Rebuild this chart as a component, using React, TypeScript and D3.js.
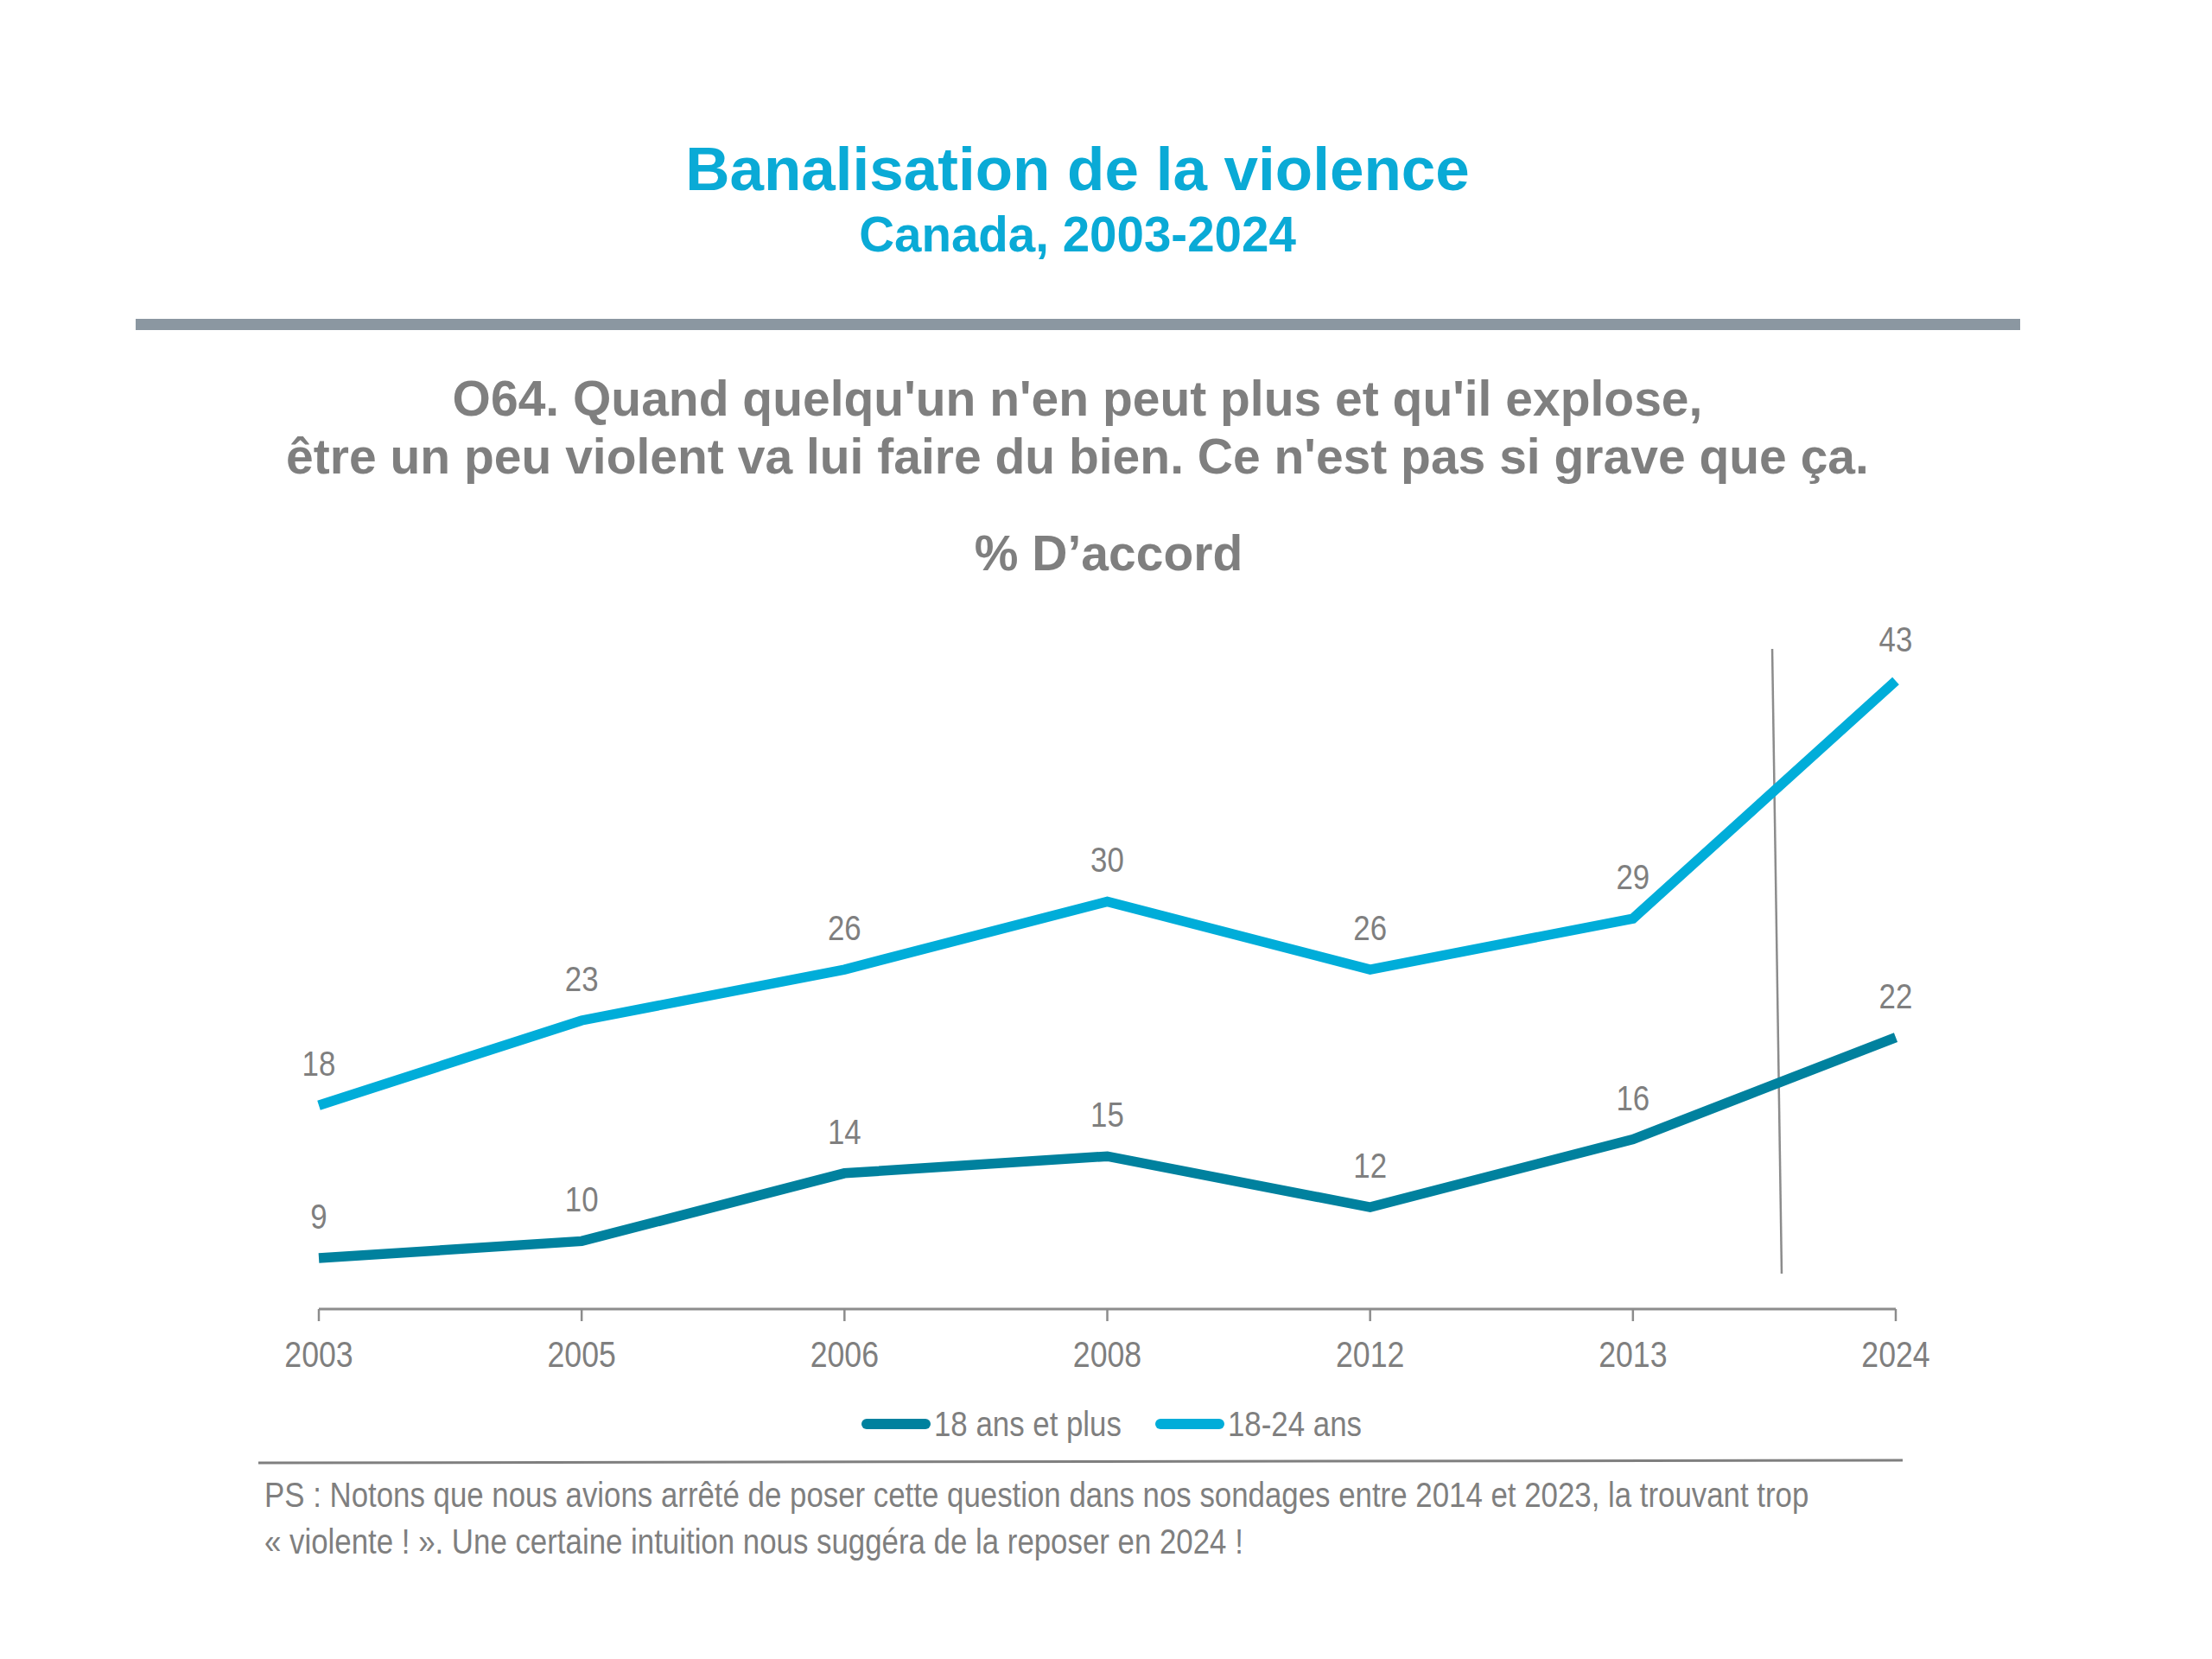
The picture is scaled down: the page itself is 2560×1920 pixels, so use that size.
import React, { useEffect } from "react";
import * as d3 from "d3";

const years = ["2003", "2005", "2006", "2008", "2012", "2013", "2024"];
const adults = [9, 10, 14, 15, 12, 16, 22];
const youth = [18, 23, 26, 30, 26, 29, 43];
const seriesNames = ["18 ans et plus", "18-24 ans"];
const titleText = "Banalisation de la violence";
const subtitleText = "Canada, 2003-2024";
const questionLines = [
  "O64. Quand quelqu'un n'en peut plus et qu'il explose,",
  "être un peu violent va lui faire du bien. Ce n'est pas si grave que ça.",
];
const measureText = "% D\u2019accord";
const footnoteLines = [
  "PS : Notons que nous avions arrêté de poser cette question dans nos sondages entre 2014 et 2023, la trouvant trop",
  "« violente ! ». Une certaine intuition nous suggéra de la reposer en 2024 !",
];

const W = 2560;
const H = 1920;
const BLUE = "#0AAAD6";
const DARK = "#00819E";
const LIGHT = "#00ADD9";
const GRAY = "#7F7F7F";
const SANS = "'Liberation Sans', Arial, Helvetica, sans-serif";
const NARROW_SCALE = 0.85;

function NText(props: {
  x: number;
  y: number;
  size: number;
  anchor?: "start" | "middle" | "end";
  children: React.ReactNode;
}) {
  return (
    <text
      transform={`translate(${props.x},${props.y}) scale(${NARROW_SCALE},1)`}
      textAnchor={props.anchor || "start"}
      fontFamily={SANS}
      fontSize={props.size}
      fill={GRAY}
    >
      {props.children}
    </text>
  );
}

export default function App() {
  useEffect(() => {
    document.body.style.margin = "0";
  }, []);

  const x = d3.scalePoint<string>().domain(years).range([369, 2194]);
  const y = d3.scaleLinear().domain([6, 43]).range([1515, 788]);
  const step = x.step();

  const line = d3
    .line<number>()
    .x((_, i) => x(years[i]) as number)
    .y((d) => y(d));

  const series = [
    { name: seriesNames[0], values: adults, color: DARK },
    { name: seriesNames[1], values: youth, color: LIGHT },
  ];

  const sepX1 = (x("2013") as number) + step * 0.53;
  const sepX2 = (x("2013") as number) + step * 0.566;

  return (
    <svg width={W} height={H} style={{ display: "block", background: "#fff" }}>
      <rect x={0} y={0} width={W} height={H} fill="#fff" />
      <text x={1247} y={220} textAnchor="middle" fontFamily={SANS} fontWeight="bold" fontSize={71} fill={BLUE}>
        {titleText}
      </text>
      <text x={1247} y={291} textAnchor="middle" fontFamily={SANS} fontWeight="bold" fontSize={56.5} fill={BLUE}>
        {subtitleText}
      </text>
      <rect x={157} y={369} width={2181} height={13} fill="#8B97A1" />
      {questionLines.map((t, i) => (
        <text key={i} x={1247} y={481 + i * 67} textAnchor="middle" fontFamily={SANS} fontWeight="bold" fontSize={57} fill={GRAY}>
          {t}
        </text>
      ))}
      <text x={1283} y={660} textAnchor="middle" fontFamily={SANS} fontWeight="bold" fontSize={57} fill={GRAY}>
        {measureText}
      </text>

      {/* axis */}
      <line x1={x(years[0])} x2={x(years[years.length - 1])} y1={y(6)} y2={y(6)} stroke="#8C8C8C" strokeWidth={3} />
      {years.map((yr) => (
        <g key={yr}>
          <line x1={x(yr)} x2={x(yr)} y1={y(6)} y2={y(6) + 14} stroke="#8C8C8C" strokeWidth={2.5} />
          <NText x={x(yr) as number} y={1582} size={42} anchor="middle">
            {yr}
          </NText>
        </g>
      ))}

      {/* separator */}
      <line x1={sepX1} y1={y(44.88)} x2={sepX2} y2={y(8.09)} stroke="#8C8C8C" strokeWidth={2.5} />

      {series.map((s) => (
        <g key={s.name}>
          <path d={line(s.values) as string} fill="none" stroke={s.color} strokeWidth={11.5} strokeLinejoin="miter" />
          {s.values.map((v, i) => (
            <NText key={i} x={x(years[i]) as number} y={y(v) - 34} size={41} anchor="middle">
              {v}
            </NText>
          ))}
        </g>
      ))}

      {/* legend */}
      {series.map((s, i) => {
        const lx = i === 0 ? 997 : 1337;
        return (
          <g key={s.name}>
            <line x1={lx + 6} x2={lx + 74} y1={1648} y2={1648} stroke={s.color} strokeWidth={12} strokeLinecap="round" />
            <NText x={lx + 84} y={1662} size={41}>
              {s.name}
            </NText>
          </g>
        );
      })}

      <line x1={299} y1={1693} x2={2202} y2={1690} stroke={GRAY} strokeWidth={3} />
      {footnoteLines.map((t, i) => (
        <NText key={i} x={306} y={1744 + i * 54} size={41}>
          {t}
        </NText>
      ))}
    </svg>
  );
}
